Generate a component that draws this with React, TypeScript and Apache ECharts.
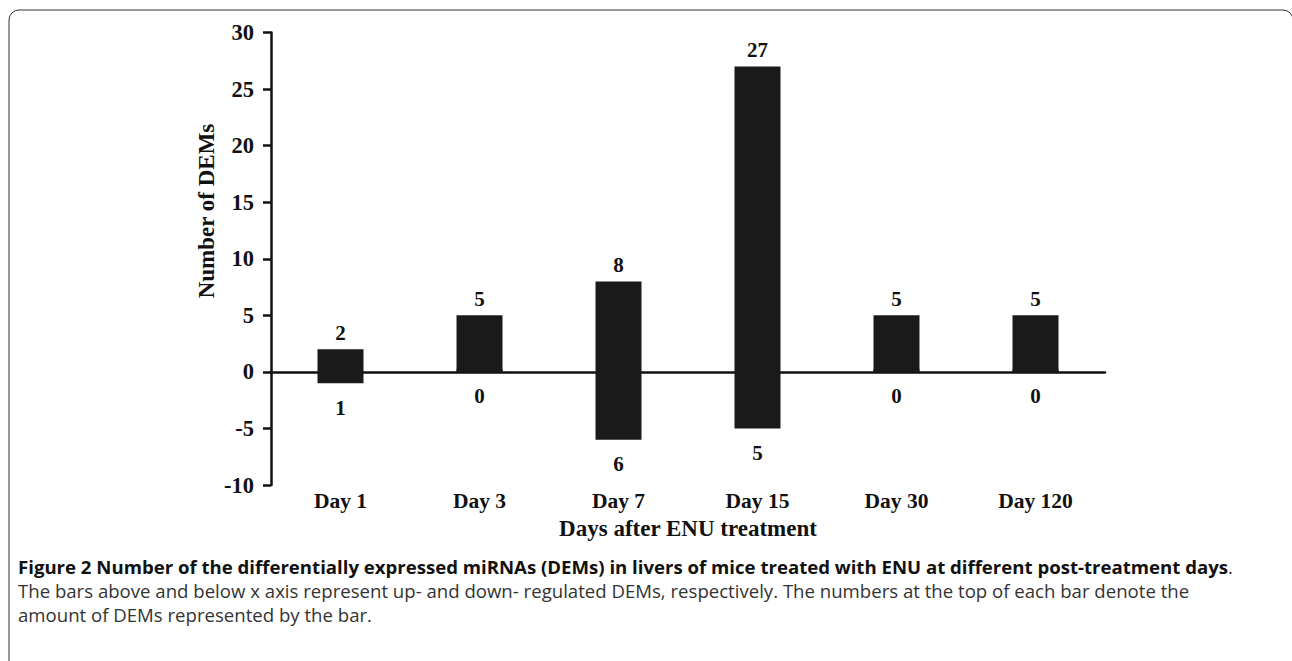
import React, { useEffect, useRef } from "react";
import * as echarts from "echarts";

const categories = ["Day 1", "Day 3", "Day 7", "Day 15", "Day 30", "Day 120"];
const upCounts = [2, 5, 8, 27, 5, 5];
const downCounts = [1, 0, 6, 5, 0, 0];
const yMin = -10;
const yMax = 30;
const yStep = 5;

const yAxisTitle = "Number of DEMs";
const xAxisTitle = "Days after ENU treatment";
const captionBold =
  "Figure 2 Number of the differentially expressed miRNAs (DEMs) in livers of mice treated with ENU at different post-treatment days";
const captionLine2 =
  "The bars above and below x axis represent up- and down- regulated DEMs, respectively. The numbers at the top of each bar denote the";
const captionLine3 = "amount of DEMs represented by the bar.";

const SERIF = "'Liberation Serif', 'Times New Roman', serif";
const SANS = "'Open Sans', 'Noto Sans', sans-serif";
const CAP = 18.6;

export default function App() {
  const ref = useRef<HTMLDivElement>(null);

  useEffect(() => {
    document.body.style.margin = "0";
    document.body.style.overflow = "hidden";
    if (!ref.current) return;
    const chart = echarts.init(ref.current, null, { renderer: "svg" });
    const labelStyle = {
      fontFamily: SERIF,
      fontWeight: "bold" as const,
      fontSize: 21,
      color: "#111",
    };
    chart.setOption({
      animation: false,
      backgroundColor: "#fff",
      grid: { left: 271, right: 187, top: 32.5, bottom: 176, containLabel: false },
      xAxis: {
        type: "category",
        data: categories,
        boundaryGap: true,
        axisLine: { show: true, onZero: true, lineStyle: { color: "#111", width: 2.5 } },
        axisTick: { show: false },
        axisLabel: { ...labelStyle, fontSize: 21.5, margin: 5 },
        name: xAxisTitle,
        nameLocation: "middle",
        nameGap: 32,
        nameTextStyle: { ...labelStyle, fontSize: 23 },
      },
      yAxis: {
        type: "value",
        min: yMin,
        max: yMax,
        interval: yStep,
        splitLine: { show: false },
        axisLine: { show: true, lineStyle: { color: "#111", width: 2.5 } },
        axisTick: { show: true, inside: false, length: 8, lineStyle: { color: "#111", width: 2.5 } },
        axisLabel: { ...labelStyle, fontSize: 22.5, margin: 17 },
      },
      series: [
        {
          type: "bar",
          data: upCounts,
          barWidth: 46,
          barGap: "-100%",
          itemStyle: { color: "#1a1a1a" },
          label: { show: true, position: "top", distance: 6, ...labelStyle },
        },
        {
          type: "bar",
          data: downCounts.map((v) => -v),
          barWidth: 46,
          barGap: "-100%",
          barMinHeight: 3,
          itemStyle: { color: "#1a1a1a" },
          label: {
            show: true,
            position: "bottom",
            distance: 14,
            ...labelStyle,
            formatter: (p: any) => String(downCounts[p.dataIndex]),
          },
        },
      ],
      graphic: [
        {
          type: "rect",
          shape: { x: 9, y: 10, width: 1284, height: 700, r: [10, 10, 0, 0] },
          style: { fill: "none", stroke: "#333", lineWidth: 1 },
          silent: true,
          z: -1,
        },
        {
          type: "text",
          x: 206,
          y: 211,
          rotation: Math.PI / 2,
          style: {
            text: yAxisTitle,
            fontFamily: SERIF,
            fontWeight: "bold",
            fontSize: 23,
            fill: "#111",
            align: "center",
            verticalAlign: "middle",
          },
        },
        {
          type: "text",
          x: 18,
          y: 566,
          style: {
            text: "{b|" + captionBold + "}{r|.}",
            verticalAlign: "middle",
            rich: {
              b: { fontFamily: SANS, fontWeight: "bold", fontSize: CAP, lineHeight: 20, fill: "#111" },
              r: { fontFamily: SANS, fontSize: CAP, lineHeight: 20, fill: "#333" },
            },
          },
        },
        {
          type: "text",
          x: 18,
          y: 590,
          style: {
            text: captionLine2,
            fontFamily: SANS,
            fontSize: CAP,
            lineHeight: 20,
            fill: "#333",
            verticalAlign: "middle",
          },
        },
        {
          type: "text",
          x: 18,
          y: 614,
          style: {
            text: captionLine3,
            fontFamily: SANS,
            fontSize: CAP,
            lineHeight: 20,
            fill: "#333",
            verticalAlign: "middle",
          },
        },
      ],
    });
    return () => chart.dispose();
  }, []);

  return <div ref={ref} style={{ width: 1292, height: 661 }} />;
}
